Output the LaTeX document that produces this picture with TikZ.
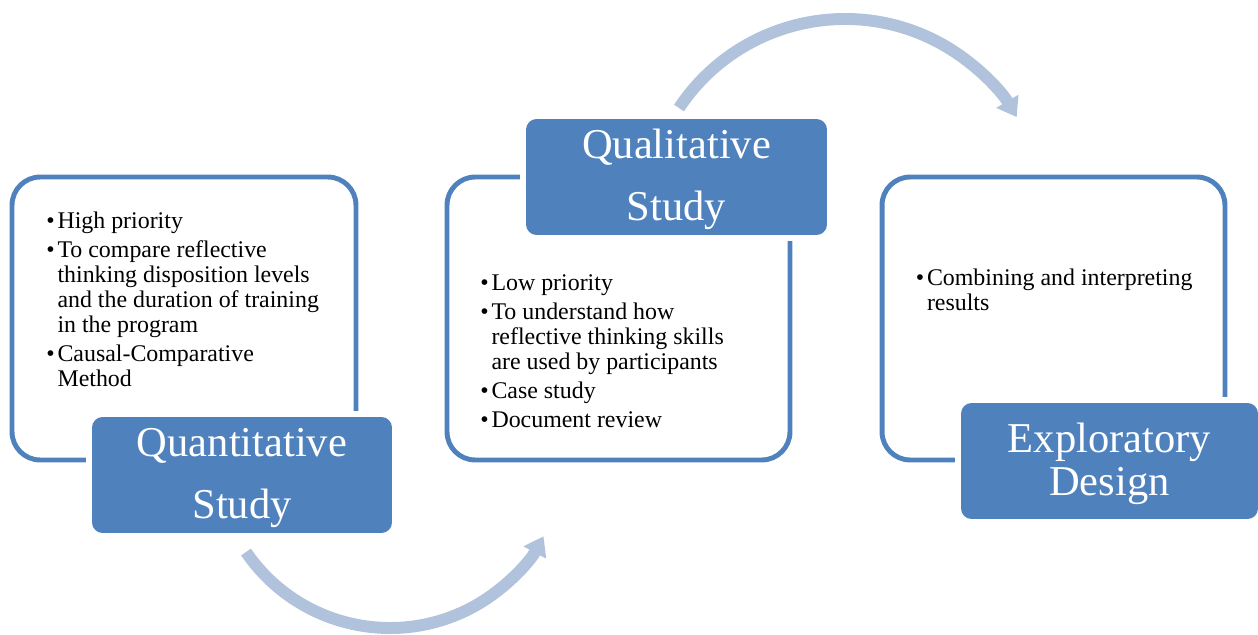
\documentclass[tikz,border=0pt]{standalone}
\usepackage{fontspec}
\setmainfont{Liberation Serif}
\usetikzlibrary{arrows.meta, positioning}
\definecolor{AccentBlue}{HTML}{4F81BD}
\definecolor{ArcBlue}{HTML}{B1C2DD}

\begin{document}
\begin{tikzpicture}[
        x=0.02cm, y=-0.02cm,
        % Estilo para el contorno
        framebox/.style={
                rectangle,
                rounded corners=16pt,
                draw=AccentBlue,
                line width=2.8pt,
                minimum width=6.86cm,
                minimum height=5.66cm
            },
        % Estilo para el titulo
        titlebox/.style={
                rectangle,
                rounded corners=6pt,
                fill=AccentBlue,
                text=white,
                align=center,
                inner sep=0pt,
                text height=55.2pt,
                minimum height=2.32cm,
                font=\fontsize{24.2}{35.3}\selectfont,
                preaction={draw=white, line width=6.8pt}
            },
        % Texto de las listas
        listtext/.style={
                anchor=north west,
                inner sep=0pt,
                font=\fontsize{13.6}{14.2}\selectfont
            },
        % Flechas curvas
        arcarrow/.style={
                draw=ArcBlue,
                line width=6.8pt,
                -{Triangle[width=14pt, length=10.5pt]}
            }
    ]

    \useasboundingbox (0,0) rectangle (1258,635);

    % CONTORNOS
    \node[framebox, minimum width=6.88cm] (quanframe) at (184,318.5) {};
    \node[framebox] (qualframe) at (618.5,318.5) {};
    \node[framebox] (explframe) at (1053.5,318.5) {};

    % TITULOS
    \node[titlebox, minimum width=6cm] (quanbox) at (242,475) {Quantitative\\Study};
    \node[titlebox, minimum width=6.02cm] (qualbox) at (676.5,177) {Qualitative\\Study};
    \node[titlebox, minimum width=5.94cm, text height=44.4pt, font=\fontsize{24.2}{24.5}\selectfont] (explbox) at (1109.5,461) {Exploratory\\Design};

    % LISTAS
    \node[listtext] (quanlist) at (46,210.5) {%
        \begin{tabular}{@{}l@{\hspace{1.6pt}}l@{}}
            \textbullet & High priority\\[2.3pt]
            \textbullet & To compare reflective\\
                        & thinking disposition levels\\
                        & and the duration of training\\
                        & in the program\\[2.3pt]
            \textbullet & Causal-Comparative\\
                        & Method
        \end{tabular}};
    \node[listtext] (quallist) at (480,272.5) {%
        \begin{tabular}{@{}l@{\hspace{1.6pt}}l@{}}
            \textbullet & Low priority\\[2.3pt]
            \textbullet & To understand how\\
                        & reflective thinking skills\\
                        & are used by participants\\[2.3pt]
            \textbullet & Case study\\[2.3pt]
            \textbullet & Document review
        \end{tabular}};
    \node[listtext] (expllist) at (915.5,267.5) {%
        \begin{tabular}{@{}l@{\hspace{1.6pt}}l@{}}
            \textbullet & Combining and interpreting\\
                        & results
        \end{tabular}};

    % FLECHAS
    \coordinate (lowstart) at (246,552);
    \draw[arcarrow] (lowstart) arc[start angle=145.65, end angle=28.3, radius=174.4];
    \coordinate (highstart) at (679,108);
    \draw[arcarrow] (highstart) arc[start angle=-146.4, end angle=-30.5, radius=199.3];

\end{tikzpicture}
\end{document}
